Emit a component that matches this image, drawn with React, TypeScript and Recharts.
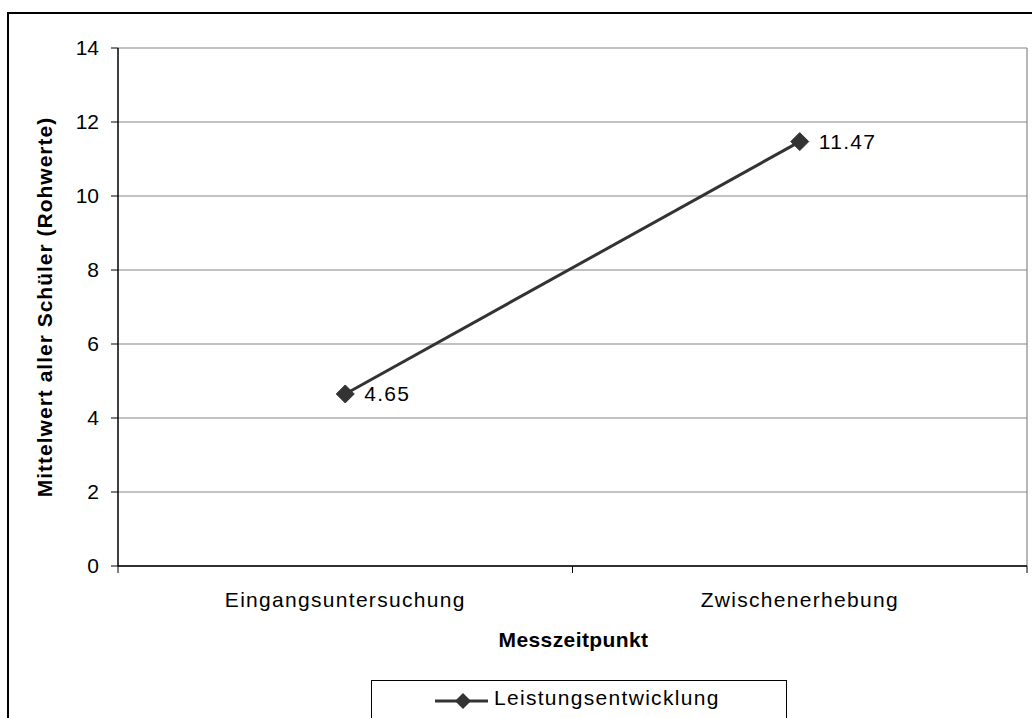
import React from 'react';
import { LineChart, Line, XAxis, YAxis, CartesianGrid, Legend, LabelList, Label } from 'recharts';

const categories = ['Eingangsuntersuchung', 'Zwischenerhebung'];
const values = [4.65, 11.47];
const seriesName = 'Leistungsentwicklung';
const yTicks = [0, 2, 4, 6, 8, 10, 12, 14];
const yTitle = 'Mittelwert aller Schüler (Rohwerte)';
const xTitle = 'Messzeitpunkt';

const data = categories.map((c, i) => ({ name: c, value: values[i] }));

const FONT = '"Liberation Sans", Arial, Helvetica, sans-serif';
const LINE_COLOR = '#333333';
const TICK_SIZE = 7;

const Diamond = (props: any) => {
  const { cx, cy } = props;
  if (cx == null || cy == null) return null;
  const r = 9;
  return (
    <path
      d={`M${cx},${cy - r} L${cx + r},${cy} L${cx},${cy + r} L${cx - r},${cy} Z`}
      fill={LINE_COLOR}
      stroke={LINE_COLOR}
    />
  );
};

const XTick = (props: any) => {
  const { x, y, payload, index } = props;
  const half = payload && payload.offset ? payload.offset : 0;
  const axisY = y - TICK_SIZE;
  const last = index === categories.length - 1;
  return (
    <g>
      <line x1={x - half} x2={x - half} y1={axisY} y2={axisY + TICK_SIZE} stroke="#000" />
      {last && <line x1={x + half} x2={x + half} y1={axisY} y2={axisY + TICK_SIZE} stroke="#000" />}
      <text
        x={x}
        y={axisY + 41}
        textAnchor="middle"
        fontSize={21}
        fontFamily={FONT}
        fill="#000"
        style={{ letterSpacing: '1.3px' }}
      >
        {payload.value}
      </text>
    </g>
  );
};

const LegendContent = (props: any) => {
  const item = props.payload && props.payload[0];
  const name = item ? item.value : seriesName;
  return (
    <div
      style={{
        width: 416,
        height: 60,
        boxSizing: 'border-box',
        border: '1px solid #000',
        background: '#fff',
      }}
    >
      <svg width={414} height={58} style={{ display: 'block' }}>
        <line x1={63} x2={116} y1={20} y2={20} stroke={LINE_COLOR} strokeWidth={3} />
        <path d="M91,12 L99,20 L91,28 L83,20 Z" fill={LINE_COLOR} />
        <text x={122} y={24} fontSize={21} fontFamily={FONT} fill="#000" style={{ letterSpacing: '1.3px' }}>
          {name}
        </text>
      </svg>
    </div>
  );
};

export default function App() {
  return (
    <div
      style={{
        position: 'fixed',
        left: 0,
        top: 0,
        width: 1032,
        height: 718,
        overflow: 'hidden',
        background: '#fff',
        fontFamily: FONT,
      }}
    >
      <div
        style={{
          position: 'absolute',
          left: 7,
          top: 12,
          width: 1100,
          height: 800,
          border: '2px solid #000',
          pointerEvents: 'none',
        }}
      />
      <div style={{ position: 'absolute', left: 0, top: 0 }}>
        <LineChart width={1032} height={718} data={data} margin={{ top: 48, right: 5, bottom: 0, left: 0 }}>
          <CartesianGrid
            stroke="#868686"
            strokeWidth={1.2}
            horizontal={true}
            vertical={true}
            verticalCoordinatesGenerator={({ offset }: any) => [offset.left + offset.width]}
          />
          <XAxis
            dataKey="name"
            scale="band"
            height={152}
            tickLine={false}
            tickSize={TICK_SIZE}
            tickMargin={0}
            axisLine={{ stroke: '#000', strokeWidth: 1.5 }}
            tick={<XTick />}
            interval={0}
          >
            <Label
              content={(p: any) => {
                const vb = p.viewBox || {};
                return (
                  <text
                    x={vb.x + vb.width / 2 + 1}
                    y={vb.y + 81}
                    textAnchor="middle"
                    fontSize={21}
                    fontWeight="bold"
                    fontFamily={FONT}
                    fill="#000"
                    style={{ letterSpacing: '0.4px' }}
                  >
                    {xTitle}
                  </text>
                );
              }}
            />
          </XAxis>
          <YAxis
            width={118}
            domain={[0, 14]}
            ticks={yTicks}
            interval={0}
            tickSize={TICK_SIZE}
            tickMargin={12}
            axisLine={{ stroke: '#000', strokeWidth: 1.5 }}
            tickLine={{ stroke: '#000' }}
            tick={{ fontSize: 21, fill: '#000', fontFamily: FONT }}
          >
            <Label
              content={(p: any) => {
                const vb = p.viewBox || {};
                const cx = vb.x + 52;
                const cy = vb.y + vb.height / 2;
                return (
                  <text
                    x={cx}
                    y={cy}
                    transform={`rotate(-90 ${cx} ${cy})`}
                    textAnchor="middle"
                    fontSize={21}
                    fontWeight="bold"
                    fontFamily={FONT}
                    fill="#000"
                    style={{ letterSpacing: '1px' }}
                  >
                    {yTitle}
                  </text>
                );
              }}
            />
          </YAxis>
          <Legend
            layout="horizontal"
            verticalAlign="middle"
            align="center"
            content={<LegendContent />}
            wrapperStyle={{ left: 371, top: 680, width: 416, height: 60 }}
          />
          <Line
            type="linear"
            dataKey="value"
            name={seriesName}
            stroke={LINE_COLOR}
            strokeWidth={3}
            dot={<Diamond />}
            activeDot={false}
            isAnimationActive={false}
          >
            <LabelList
              dataKey="value"
              position="right"
              offset={19}
              fill="#000"
              fontSize={21}
              fontFamily={FONT}
              style={{ letterSpacing: '1.3px' }}
            />
          </Line>
        </LineChart>
      </div>
    </div>
  );
}
